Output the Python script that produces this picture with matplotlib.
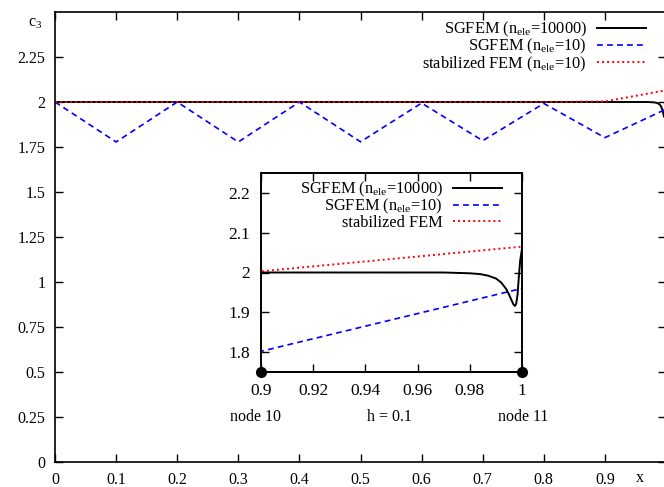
import matplotlib
matplotlib.use("Agg")
import matplotlib.pyplot as plt

plt.rcParams['font.family'] = ['Liberation Serif', 'DejaVu Serif']
plt.rcParams['mathtext.fontset'] = 'custom'
plt.rcParams['mathtext.rm'] = 'Liberation Serif'
plt.rcParams['mathtext.it'] = 'Liberation Serif:italic'

# ---- data ----
x_coarse = [0.0, 0.1, 0.2, 0.3, 0.4, 0.5, 0.6, 0.7, 0.8, 0.9, 1.0]
sgfem10 = [2.0, 1.778, 2.0, 1.778, 2.0, 1.779, 1.994, 1.785, 1.992, 1.802, 1.960]
fem10 = [2.0, 2.0, 2.0, 2.0, 2.0, 2.0, 2.0, 2.0, 2.0, 2.003, 2.065]

x_fine = [0.0, 0.9, 0.95, 0.97, 0.975, 0.98, 0.984, 0.987, 0.99, 0.992, 0.994,
          0.995, 0.996, 0.9967, 0.9973, 0.9978, 0.9983, 0.9988, 0.9993, 1.0]
sgfem10000 = [2.0, 2.0, 2.0, 2.0, 1.999, 1.998, 1.996, 1.992, 1.985, 1.975, 1.958,
              1.945, 1.930, 1.920, 1.916, 1.922, 1.945, 1.99, 2.03, 2.06]

main_xticks = [0.0, 0.1, 0.2, 0.3, 0.4, 0.5, 0.6, 0.7, 0.8, 0.9]
main_xlabels = ['0', '0.1', '0.2', '0.3', '0.4', '0.5', '0.6', '0.7', '0.8', '0.9']
main_yticks = [0.0, 0.25, 0.5, 0.75, 1.0, 1.25, 1.5, 1.75, 2.0, 2.25]
main_ylabels = ['0', '0.25', '0.5', '0.75', '1', '1.25', '1.5', '1.75', '2', '2.25']
inset_xticks = [0.9, 0.92, 0.94, 0.96, 0.98, 1.0]
inset_xlabels = ['0.9', '0.92', '0.94', '0.96', '0.98', '1']
inset_yticks = [1.8, 1.9, 2.0, 2.1, 2.2]
inset_ylabels = ['1.8', '1.9', '2', '2.1', '2.2']
node_x = [0.9, 1.0]
node_y = [1.75, 1.75]

labels_main = [r'SGFEM (n$_{\rm ele}$=10000)', r'SGFEM (n$_{\rm ele}$=10)',
               r'stabilized FEM (n$_{\rm ele}$=10)']
labels_inset = [r'SGFEM (n$_{\rm ele}$=10000)', r'SGFEM (n$_{\rm ele}$=10)',
                'stabilized FEM']

W, H = 664, 487
fig = plt.figure(figsize=(W / 100, H / 100), dpi=100)

blue_ls = (0, (3.5, 2.5))
red_ls = (0, (1, 1.6))

ax = fig.add_axes([55 / W, (H - 462) / H, (666 - 55) / W, (462 - 12) / H])
l1, = ax.plot(x_fine, sgfem10000, color='black', lw=1.4, label=labels_main[0])
l2, = ax.plot(x_coarse, sgfem10, color='#0000ff', lw=1.2, ls=blue_ls, label=labels_main[1])
l3, = ax.plot(x_coarse, fem10, color='#ff0000', lw=1.4, ls=red_ls, label=labels_main[2])
ax.set_xlim(0, 1)
ax.set_ylim(0, 2.5)
ax.set_xticks(main_xticks)
ax.set_xticklabels(main_xlabels)
ax.set_yticks(main_yticks)
ax.set_yticklabels(main_ylabels)
ax.tick_params(direction='in', length=6, width=1, top=True, right=True,
               labelsize=11.5, pad=7)
for s in ax.spines.values():
    s.set_linewidth(1.2)
ax.text(-0.02, 0.976, r'c$_{3}$', transform=ax.transAxes, ha='right', va='center', fontsize=11.5)
ax.text(0.957, -0.036, 'x', transform=ax.transAxes, ha='center', va='center', fontsize=11.5)

ax.legend(handles=[l1, l2, l3], loc='upper right', frameon=False, markerfirst=False,
          bbox_to_anchor=(646 / W, (H - 20) / H), bbox_transform=fig.transFigure,
          borderpad=0, borderaxespad=0, handlelength=3.0, handletextpad=0.6,
          labelspacing=-0.12, fontsize=11.8)

ax.text(0.328, 0.25, 'node 10', ha='center', va='center', fontsize=11.5)
ax.text(0.548, 0.25, 'h = 0.1', ha='center', va='center', fontsize=11.5)
ax.text(0.767, 0.25, 'node 11', ha='center', va='center', fontsize=11.5)

# ---- inset ----
ins = fig.add_axes([261 / W, (H - 372) / H, (522 - 261) / W, (372 - 173) / H])
i1, = ins.plot(x_fine, sgfem10000, color='black', lw=1.4, label=labels_inset[0])
i2, = ins.plot(x_coarse, sgfem10, color='#0000ff', lw=1.2, ls=blue_ls, label=labels_inset[1])
i3, = ins.plot(x_coarse, fem10, color='#ff0000', lw=1.4, ls=red_ls, label=labels_inset[2])
ins.plot(node_x, node_y, 'o', color='black', ms=7, clip_on=False, zorder=5)
ins.set_xlim(0.9, 1.0)
ins.set_ylim(1.75, 2.25)
ins.set_xticks(inset_xticks)
ins.set_xticklabels(inset_xlabels)
ins.set_yticks(inset_yticks)
ins.set_yticklabels(inset_ylabels)
ins.tick_params(direction='in', length=6, width=1, top=True, right=True,
                labelsize=12.5, pad=8)
for s in ins.spines.values():
    s.set_linewidth(1.4)
ins.legend(handles=[i1, i2, i3], loc='upper right', frameon=False, markerfirst=False,
           bbox_to_anchor=(502 / W, (H - 180) / H), bbox_transform=fig.transFigure,
           borderpad=0, borderaxespad=0, handlelength=3.0, handletextpad=0.6,
           labelspacing=-0.12, fontsize=11.8)

fig.savefig('out.png', dpi=100)
